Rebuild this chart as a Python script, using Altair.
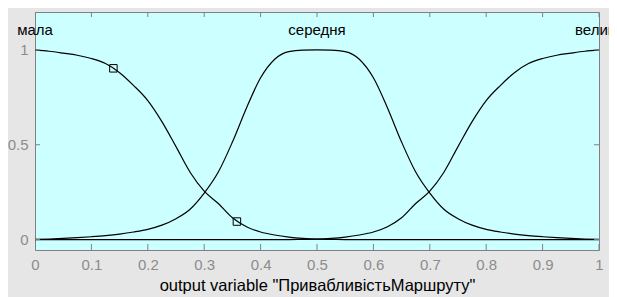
import altair as alt
import pandas as pd

# sample positions along the output universe
x_vals = [0.000, 0.025, 0.050, 0.075, 0.100, 0.125, 0.150, 0.175, 0.200, 0.225,
          0.250, 0.275, 0.300, 0.325, 0.350, 0.375, 0.400, 0.425, 0.450, 0.475,
          0.500, 0.525, 0.550, 0.575, 0.600, 0.625, 0.650, 0.675, 0.700, 0.725,
          0.750, 0.775, 0.800, 0.825, 0.850, 0.875, 0.900, 0.925, 0.950, 0.975,
          1.000]

mala = [1.000, 0.993, 0.983, 0.972, 0.955, 0.928, 0.880, 0.812, 0.733, 0.622,
        0.490, 0.355, 0.255, 0.190, 0.115, 0.068, 0.040, 0.024, 0.013, 0.006,
        0.002, 0.001, 0.000, 0.000, 0.000, 0.000, 0.000, 0.000, 0.000, 0.000,
        0.000, 0.000, 0.000, 0.000, 0.000, 0.000, 0.000, 0.000, 0.000, 0.000,
        0.000]

serednya = [0.001, 0.003, 0.006, 0.010, 0.015, 0.021, 0.029, 0.040, 0.054, 0.076,
            0.110, 0.160, 0.245, 0.356, 0.514, 0.694, 0.853, 0.951, 0.991, 0.999,
            1.000, 0.999, 0.991, 0.951, 0.853, 0.694, 0.514, 0.356, 0.245, 0.160,
            0.110, 0.076, 0.054, 0.040, 0.029, 0.021, 0.015, 0.010, 0.006, 0.003,
            0.001]

velyka = [0.000, 0.000, 0.000, 0.000, 0.000, 0.000, 0.000, 0.000, 0.000, 0.000,
          0.000, 0.000, 0.000, 0.000, 0.000, 0.000, 0.000, 0.000, 0.000, 0.001,
          0.002, 0.006, 0.013, 0.024, 0.040, 0.068, 0.115, 0.190, 0.255, 0.355,
          0.490, 0.622, 0.733, 0.812, 0.880, 0.928, 0.955, 0.972, 0.983, 0.993,
          1.000]

mf_names = ["мала", "середня", "велика"]
label_x = [0.0, 0.5, 1.0]
label_y = [1.105, 1.105, 1.105]

marker_x = [0.139, 0.358]
marker_y = [0.903, 0.095]

x_ticks = [0, 0.1, 0.2, 0.3, 0.4, 0.5, 0.6, 0.7, 0.8, 0.9, 1]
y_ticks = [0, 0.5, 1]
x_title = 'output variable "ПривабливістьМаршруту"'

FONT = "Liberation Sans"
GRAY = "#808080"
LABEL_GRAY = "#8c8c8c"

rows = []
for name, ys in zip(mf_names, [mala, serednya, velyka]):
    for xv, yv in zip(x_vals, ys):
        rows.append({"mf": name, "x": xv, "y": yv})
curves = pd.DataFrame(rows)
labels = pd.DataFrame({"mf": mf_names, "x": label_x, "y": label_y})
markers = pd.DataFrame({"x": marker_x, "y": marker_y})
xt = pd.DataFrame({"v": x_ticks})
yt = pd.DataFrame({"v": y_ticks})

Y_MIN, Y_MAX = -0.055, 1.2
xscale = alt.Scale(domain=[0, 1], nice=False, zero=False)
yscale = alt.Scale(domain=[Y_MIN, Y_MAX], nice=False, zero=False)

x_axis = alt.Axis(values=x_ticks, format="~g", title=x_title, domain=False,
                  ticks=False, grid=False, labelColor=LABEL_GRAY, labelFont=FONT,
                  labelFontSize=15, labelPadding=7, labelFlush=False,
                  titleColor="black", titleFont=FONT, titleFontSize=16.5,
                  titleFontWeight="normal", titlePadding=5)
y_axis = alt.Axis(values=y_ticks, format="~g", title=None, domain=False,
                  ticks=False, grid=False, labelColor=LABEL_GRAY, labelFont=FONT,
                  labelFontSize=15, labelPadding=7, labelFlush=False)

lines = alt.Chart(curves).mark_line(
    color="black", strokeWidth=1.2, interpolate="monotone", clip=True
).encode(
    x=alt.X("x:Q", scale=xscale, axis=x_axis),
    y=alt.Y("y:Q", scale=yscale, axis=y_axis),
    detail="mf:N",
)

squares = alt.Chart(markers).mark_point(
    shape="square", filled=False, size=56, color="black", strokeWidth=1, opacity=1
).encode(
    x=alt.X("x:Q", scale=xscale, axis=x_axis),
    y=alt.Y("y:Q", scale=yscale, axis=y_axis),
)

texts = alt.Chart(labels).mark_text(
    font=FONT, fontSize=15, color="black", align="center", baseline="middle"
).encode(
    x=alt.X("x:Q", scale=xscale, axis=x_axis),
    y=alt.Y("y:Q", scale=yscale, axis=y_axis),
    text="mf:N",
)

bottom_ticks = alt.Chart(xt).mark_tick(
    orient="vertical", size=12, thickness=1, color=GRAY, clip=True, opacity=1
).encode(x=alt.X("v:Q", scale=xscale, axis=x_axis), y=alt.YDatum(Y_MIN))

top_ticks = alt.Chart(xt).mark_tick(
    orient="vertical", size=10, thickness=1, color=GRAY, clip=True, opacity=1
).encode(x=alt.X("v:Q", scale=xscale, axis=x_axis), y=alt.YDatum(Y_MAX))

left_ticks = alt.Chart(yt).mark_tick(
    orient="horizontal", size=10, thickness=1, color=GRAY, clip=True, opacity=1
).encode(y=alt.Y("v:Q", scale=yscale, axis=y_axis), x=alt.XDatum(0))

right_ticks = alt.Chart(yt).mark_tick(
    orient="horizontal", size=10, thickness=1, color=GRAY, clip=True, opacity=1
).encode(y=alt.Y("v:Q", scale=yscale, axis=y_axis), x=alt.XDatum(1))

chart = alt.layer(
    lines, squares, texts, bottom_ticks, top_ticks, left_ticks, right_ticks
).properties(
    width=564,
    height=238,
    autosize=alt.AutoSizeParams(type="none"),
    padding={"left": 27, "top": 4, "right": 10, "bottom": 47},
    background="#e6e6e6",
).configure_view(
    fill="#ccffff", stroke=GRAY, strokeWidth=1
)

chart.save("out.html", embed_options={"renderer": "svg", "actions": False})
